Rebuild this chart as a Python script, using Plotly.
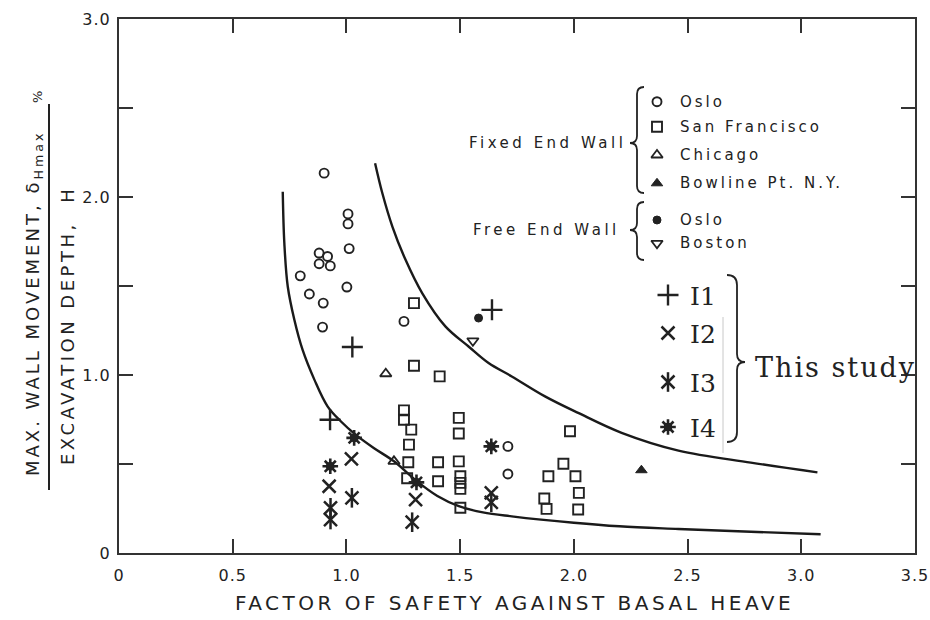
import plotly.graph_objects as go

# ---- Case histories (fixed end wall) ----
oslo_fixed_x = [0.902, 1.007, 1.007, 1.012, 0.880, 0.917, 0.880, 0.929, 0.797, 1.002,
                0.837, 0.898, 0.895, 1.253, 1.710, 1.710]
oslo_fixed_y = [2.134, 1.905, 1.849, 1.710, 1.685, 1.666, 1.625, 1.613, 1.557, 1.494,
                1.455, 1.404, 1.269, 1.301, 0.599, 0.444]

sanfran_x = [1.297, 1.297, 1.410, 1.253, 1.253, 1.285, 1.275, 1.494, 1.494, 1.272,
             1.403, 1.494, 1.267, 1.403, 1.501, 1.501, 1.501, 1.501, 1.983, 1.954,
             1.888, 2.007, 1.870, 1.880, 2.022, 2.019]
sanfran_y = [1.404, 1.052, 0.992, 0.801, 0.749, 0.693, 0.609, 0.759, 0.671, 0.510,
             0.510, 0.515, 0.420, 0.403, 0.431, 0.394, 0.360, 0.254, 0.684, 0.501,
             0.431, 0.431, 0.306, 0.248, 0.338, 0.244]

chicago_x = [1.173, 1.209]
chicago_y = [1.007, 0.515]

bowline_x = [2.297]
bowline_y = [0.465]

# ---- Case histories (free end wall) ----
oslo_free_x = [1.581]
oslo_free_y = [1.320]

boston_x = [1.556]
boston_y = [1.192]

# ---- This study ----
i1_x = [1.026, 0.928, 1.640]
i1_y = [1.157, 0.749, 1.366]
i2_x = [1.022, 0.924, 1.304, 1.637]
i2_y = [0.529, 0.375, 0.300, 0.338]
i3_x = [1.024, 0.930, 0.930, 1.289, 1.637]
i3_y = [0.310, 0.254, 0.188, 0.173, 0.285]
i4_x = [1.034, 0.929, 1.308, 1.637]
i4_y = [0.647, 0.487, 0.397, 0.599]

# ---- Bounding curves ----
lower_curve_x = [0.720, 0.727, 0.742, 0.771, 0.807, 0.859, 0.917, 0.975, 1.040, 1.120,
                 1.209, 1.308, 1.400, 1.494, 1.600, 1.727, 2.000, 2.200, 2.460, 3.085]
lower_curve_y = [2.030, 1.741, 1.497, 1.310, 1.142, 0.974, 0.824, 0.740, 0.665, 0.590,
                 0.515, 0.405, 0.320, 0.263, 0.228, 0.206, 0.170, 0.150, 0.135, 0.105]
upper_curve_x = [1.126, 1.158, 1.202, 1.260, 1.333, 1.435, 1.537, 1.625, 1.727, 1.873,
                 2.019, 2.210, 2.460, 2.778, 3.071]
upper_curve_y = [2.190, 2.021, 1.834, 1.647, 1.460, 1.273, 1.160, 1.067, 0.992, 0.880,
                 0.787, 0.675, 0.575, 0.508, 0.453]

# ---- Axis ticks ----
x_tick_vals = [0, 0.5, 1.0, 1.5, 2.0, 2.5, 3.0, 3.5]
x_tick_text = ["0", "0.5", "1.0", "1.5", "2.0", "2.5", "3.0", "3.5"]
y_tick_vals = [0, 1.0, 2.0, 3.0]
y_tick_text = ["0", "1.0", "2.0", "3.0"]
y_minor_vals = [0.5, 1.5, 2.5]

INK = "#222222"
SANS = "DejaVu Sans"
SERIF = "DejaVu Serif"

W, H = 930, 620
ML, MR, MT, MB = 119, 15, 19, 67
PW, PH = W - ML - MR, H - MT - MB


def fx(px):
    """Pixel column -> paper x."""
    return (px - ML) / PW


def fy(py):
    """Pixel row -> paper y."""
    return (MT + PH - py) / PH


def spaced(text, ls):
    return f'<span style="letter-spacing:{ls}px">{text}</span>'


fig = go.Figure()

# curves
for cx, cy in [(lower_curve_x, lower_curve_y), (upper_curve_x, upper_curve_y)]:
    fig.add_trace(go.Scatter(x=cx, y=cy, mode="lines",
                             line=dict(color="#1a1a1a", width=2.4, shape="spline",
                                       smoothing=1.0),
                             hoverinfo="skip"))


def pts(x, y, symbol, size, lw=1.5, xaxis="x", yaxis="y"):
    fig.add_trace(go.Scatter(
        x=x, y=y, mode="markers", xaxis=xaxis, yaxis=yaxis,
        marker=dict(symbol=symbol, size=size, color=INK,
                    line=dict(color=INK, width=lw)),
        hoverinfo="skip"))


def draw_sets(data, xaxis="x", yaxis="y"):
    (ox, oy), (sx, sy), (cx, cy), (bx, by), (fx_, fy_), (tx, ty) = data
    pts(ox, oy, "circle-open", 9, 1.9, xaxis, yaxis)
    pts(sx, sy, "square-open", 10, 1.9, xaxis, yaxis)
    pts(cx, cy, "triangle-up-open", 10, 1.8, xaxis, yaxis)
    pts(bx, by, "triangle-up", 10, 1, xaxis, yaxis)
    pts(fx_, fy_, "circle", 8, 1, xaxis, yaxis)
    pts(tx, ty, "triangle-down-open", 10, 1.8, xaxis, yaxis)


def draw_study(a, b, c, d, xaxis="x", yaxis="y"):
    pts(a[0], a[1], "cross-thin-open", 15, 2.4, xaxis, yaxis)
    pts(b[0], b[1], "x-thin-open", 13, 2.5, xaxis, yaxis)
    pts(c[0], c[1], "x-thin-open", 13, 2.5, xaxis, yaxis)
    pts(c[0], c[1], "line-ns-open", 14, 2.5, xaxis, yaxis)
    pts(d[0], d[1], "asterisk-open", 13, 2.6, xaxis, yaxis)
    pts(d[0], d[1], "circle", 8, 1, xaxis, yaxis)


draw_sets([(oslo_fixed_x, oslo_fixed_y), (sanfran_x, sanfran_y),
           (chicago_x, chicago_y), (bowline_x, bowline_y),
           (oslo_free_x, oslo_free_y), (boston_x, boston_y)])
draw_study((i1_x, i1_y), (i2_x, i2_y), (i3_x, i3_y), (i4_x, i4_y))

# ---- key symbols, placed on an overlay axis spanning the plot area (0..1) ----
key_x = fx(657)
key_rows = [101.7, 126.7, 155, 183.3, 220, 243.3]
draw_sets([([key_x], [fy(r)]) for r in key_rows], xaxis="x2", yaxis="y2")
study_x = fx(668)
study_rows = [295, 333, 382, 427]
draw_study(*[([study_x], [fy(r)]) for r in study_rows], xaxis="x2", yaxis="y2")

annotations = []
key_labels = ["Oslo", "San Francisco", "Chicago", "Bowline Pt. N.Y.", "Oslo", "Boston"]
for lab, row in zip(key_labels, key_rows):
    annotations.append(dict(x=fx(678), y=fy(row), xref="paper", yref="paper",
                            text=spaced(lab, 3), showarrow=False, xanchor="left",
                            yanchor="middle", font=dict(family=SANS, size=15, color=INK)))
annotations.append(dict(x=fx(628), y=fy(143), xref="paper", yref="paper",
                        text=spaced("Fixed End Wall", 3.5), showarrow=False,
                        xanchor="right", yanchor="middle",
                        font=dict(family=SANS, size=15, color=INK)))
annotations.append(dict(x=fx(622), y=fy(230), xref="paper", yref="paper",
                        text=spaced("Free End Wall", 3.5), showarrow=False,
                        xanchor="right", yanchor="middle",
                        font=dict(family=SANS, size=15, color=INK)))
for lab, row in zip(["I1", "I2", "I3", "I4"], study_rows):
    annotations.append(dict(x=fx(688), y=fy(row + 1), xref="paper", yref="paper",
                            text=lab, showarrow=False, xanchor="left", yanchor="middle",
                            font=dict(family=SERIF, size=25, color=INK)))
annotations.append(dict(x=fx(753), y=fy(367), xref="paper", yref="paper",
                        text=spaced("This study", 2), showarrow=False, xanchor="left",
                        yanchor="middle", font=dict(family=SERIF, size=27, color=INK)))

# axis titles
annotations.append(dict(x=fx(514), y=fy(603), xref="paper", yref="paper",
                        text=spaced("FACTOR OF SAFETY AGAINST BASAL HEAVE", 3.5),
                        showarrow=False, xanchor="center", yanchor="middle",
                        font=dict(family=SANS, size=20, color=INK)))
annotations.append(dict(x=fx(34), y=fy(304), xref="paper", yref="paper",
                        text=spaced("MAX. WALL MOVEMENT, δ<sub>Hmax</sub>", 3),
                        textangle=-90, showarrow=False, xanchor="center", yanchor="middle",
                        font=dict(family=SANS, size=18, color=INK)))
annotations.append(dict(x=fx(37), y=fy(97), xref="paper", yref="paper",
                        text="%", textangle=-90, showarrow=False,
                        xanchor="center", yanchor="middle",
                        font=dict(family=SANS, size=13, color=INK)))
annotations.append(dict(x=fx(67), y=fy(326), xref="paper", yref="paper",
                        text=spaced("EXCAVATION DEPTH,  H", 3.5),
                        textangle=-90, showarrow=False, xanchor="center", yanchor="middle",
                        font=dict(family=SANS, size=18, color=INK)))


def brace_left(xp, y0, ym, y1, d=7):
    """Curly brace opening to the right, tip pointing left at ym."""
    X, Y = fx, fy
    return (f"M {X(xp + d)},{Y(y0)} Q {X(xp)},{Y(y0)} {X(xp)},{Y(y0 + d)} "
            f"L {X(xp)},{Y(ym - d)} Q {X(xp)},{Y(ym)} {X(xp - d)},{Y(ym)} "
            f"Q {X(xp)},{Y(ym)} {X(xp)},{Y(ym + d)} "
            f"L {X(xp)},{Y(y1 - d)} Q {X(xp)},{Y(y1)} {X(xp + d)},{Y(y1)}")


X, Y = fx, fy
bracket = (f"M {X(727)},{Y(275)} Q {X(737)},{Y(275)} {X(737)},{Y(285)} "
           f"L {X(737)},{Y(354)} Q {X(737)},{Y(362)} {X(745)},{Y(362)} "
           f"Q {X(737)},{Y(362)} {X(737)},{Y(370)} "
           f"L {X(737)},{Y(432)} Q {X(737)},{Y(442)} {X(727)},{Y(442)}")

shapes = [
    dict(type="path", xref="paper", yref="paper", path=brace_left(637, 87, 143, 193),
         line=dict(color=INK, width=1.8)),
    dict(type="path", xref="paper", yref="paper", path=brace_left(637, 202, 230, 260),
         line=dict(color=INK, width=1.8)),
    dict(type="path", xref="paper", yref="paper", path=bracket,
         line=dict(color=INK, width=1.8)),
    dict(type="line", xref="paper", yref="paper", x0=X(723), x1=X(723), y0=Y(317), y1=Y(453),
         line=dict(color="#c8c8c8", width=1)),
    # fraction bar of the y-axis title
    dict(type="line", xref="paper", yref="paper", x0=X(49), x1=X(49), y0=Y(490), y1=Y(104),
         line=dict(color=INK, width=2)),
]

axis_common = dict(showgrid=False, zeroline=False, showline=True, linecolor="#333",
                   linewidth=2, mirror="ticks", ticks="inside", ticklen=14,
                   tickwidth=2, tickcolor="#333", ticklabeloverflow="allow",
                   automargin=False,
                   tickfont=dict(family=SANS, size=16, color=INK))

fig.update_layout(
    width=W, height=H,
    margin=dict(l=ML, r=MR, t=MT, b=MB, pad=0, autoexpand=False),
    paper_bgcolor="white", plot_bgcolor="white",
    showlegend=False,
    xaxis=dict(range=[0, 3.5], tickvals=x_tick_vals,
               ticktext=[spaced(t, 1) for t in x_tick_text],
               ticklabelstandoff=7, **axis_common),
    yaxis=dict(range=[0, 3.0], tickvals=y_tick_vals,
               ticktext=[spaced(t, 1) for t in y_tick_text],
               ticklabelstandoff=3,
               minor=dict(tickvals=y_minor_vals, ticks="inside", ticklen=14,
                          tickwidth=2, tickcolor="#333", showgrid=False),
               **axis_common),
    xaxis2=dict(range=[0, 1], overlaying="x", visible=False),
    yaxis2=dict(range=[0, 1], overlaying="y", visible=False),
    annotations=annotations,
    shapes=shapes,
)

fig.write_html("out.html")
